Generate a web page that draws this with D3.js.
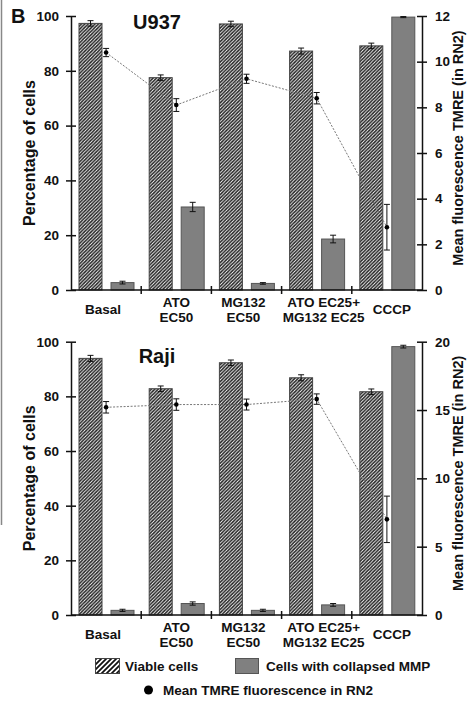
<!DOCTYPE html>
<html>
<head>
<meta charset="utf-8">
<script src="https://cdn.jsdelivr.net/npm/d3@7"></script>
<style>
  body { margin: 0; background: #fff; }
  text { font-family: "Liberation Sans", Arial, sans-serif; font-weight: bold; fill: #111; }
</style>
</head>
<body>
<div id="graph"></div>
<script>
// categories and x labels (one entry per line)
var categories = ["Basal", "ATO EC50", "MG132 EC50", "ATO EC25+ MG132 EC25", "CCCP"];
var category_lines = [["Basal"], ["ATO", "EC50"], ["MG132", "EC50"], ["ATO EC25+", "MG132 EC25"], ["CCCP"]];

// U937 panel
var u937_viable = [97.3, 77.5, 97.1, 87.2, 89.1];
var u937_viable_err = [1.0, 1.0, 1.0, 1.1, 1.0];
var u937_collapsed = [2.7, 30.3, 2.4, 18.6, 99.6];
var u937_collapsed_err = [0.5, 1.7, 0.3, 1.4, 0.2];
var u937_tmre = [10.4, 8.1, 9.25, 8.4, 2.75];
var u937_tmre_err = [0.18, 0.28, 0.2, 0.25, 1.0];

// Raji panel
var raji_viable = [93.9, 82.8, 92.3, 86.8, 81.7];
var raji_viable_err = [1.1, 1.0, 1.0, 1.1, 1.0];
var raji_collapsed = [1.7, 4.2, 1.7, 3.7, 98.2];
var raji_collapsed_err = [0.4, 0.6, 0.4, 0.5, 0.5];
var raji_tmre = [15.2, 15.4, 15.4, 15.8, 7.0];
var raji_tmre_err = [0.42, 0.42, 0.4, 0.38, 1.7];

// tick values
var left_ticks = [0, 20, 40, 60, 80, 100];
var u937_right_ticks = [0, 2, 4, 6, 8, 10, 12];
var raji_right_ticks = [0, 5, 10, 15, 20];

var WIDTH = 468, HEIGHT = 703;
var LEFT = 71, RIGHT = 422;
var BAR_W = 23;
var label_shift = [-3, 0, -3, 7, 5];

var svg = d3.select("#graph").append("svg")
  .attr("width", WIDTH).attr("height", HEIGHT);

svg.append("rect").attr("width", WIDTH).attr("height", HEIGHT).attr("fill", "#fff");

// Hatch patterns
var defs = svg.append("defs");
defs.append("pattern")
  .attr("id", "hatch").attr("patternUnits", "userSpaceOnUse")
  .attr("width", 3.4).attr("height", 3.4)
  .append("path")
  .attr("d", "M-1,1 l2,-2 M0,3.4 l3.4,-3.4 M2.4,4.4 l2,-2")
  .attr("stroke", "#1e1e1e").attr("stroke-width", 1.5);
defs.append("pattern")
  .attr("id", "hatch_big").attr("patternUnits", "userSpaceOnUse")
  .attr("width", 5).attr("height", 5)
  .append("path")
  .attr("d", "M-1,1 l2,-2 M0,5 l5,-5 M4,6 l2,-2")
  .attr("stroke", "#111").attr("stroke-width", 1.8);

// left frame line
svg.append("line").attr("x1", 1.5).attr("x2", 1.5).attr("y1", 0).attr("y2", 525)
  .attr("stroke", "#888").attr("stroke-width", 1.5);

svg.append("text").attr("x", 11).attr("y", 23).style("font-size", "20px").text("B");

var xscale = d3.scaleBand().domain(categories).range([LEFT, RIGHT]);

function draw_panel(p) {
  var yscale = d3.scaleLinear().domain([0, 100]).range([p.bottom, p.top]);
  var rscale = d3.scaleLinear().domain([0, p.right_max]).range([p.bottom, p.top]);
  var g = svg.append("g");

  // Bars: viable (hatched)
  g.selectAll(".viable").data(p.viable).enter().append("rect")
    .attr("x", (d, i) => xscale(categories[i]) + 8)
    .attr("y", d => yscale(d))
    .attr("width", BAR_W)
    .attr("height", d => p.bottom - yscale(d))
    .attr("fill", "url(#hatch)")
    .attr("stroke", "#444").attr("stroke-width", 1);

  // Bars: collapsed (gray)
  g.selectAll(".collapsed").data(p.collapsed).enter().append("rect")
    .attr("x", (d, i) => xscale(categories[i]) + 40)
    .attr("y", d => yscale(d))
    .attr("width", BAR_W)
    .attr("height", d => p.bottom - yscale(d))
    .attr("fill", "#808080")
    .attr("stroke", "#555").attr("stroke-width", 1);

  function err_bar(cx, lo, hi) {
    g.append("line").attr("x1", cx).attr("x2", cx).attr("y1", lo).attr("y2", hi)
      .attr("stroke", "#111").attr("stroke-width", 1);
    [lo, hi].forEach(y => g.append("line").attr("x1", cx - 3).attr("x2", cx + 3)
      .attr("y1", y).attr("y2", y).attr("stroke", "#111").attr("stroke-width", 1));
  }

  p.viable.forEach((v, i) => err_bar(xscale(categories[i]) + 8 + BAR_W / 2,
    yscale(v - p.viable_err[i]), yscale(v + p.viable_err[i])));
  p.collapsed.forEach((v, i) => err_bar(xscale(categories[i]) + 40 + BAR_W / 2,
    yscale(v - p.collapsed_err[i]), yscale(v + p.collapsed_err[i])));

  // TMRE dotted line + points
  var cx = (d, i) => xscale(categories[i]) + xscale.bandwidth() / 2;
  var line = d3.line().x(cx).y(d => rscale(d));
  g.append("path").datum(p.tmre).attr("d", line)
    .attr("fill", "none").attr("stroke", "#777").attr("stroke-width", 1)
    .attr("stroke-dasharray", "2,1.5");
  p.tmre.forEach((v, i) => err_bar(cx(v, i), rscale(v - p.tmre_err[i]), rscale(v + p.tmre_err[i])));
  g.selectAll(".pt").data(p.tmre).enter().append("circle")
    .attr("cx", cx).attr("cy", d => rscale(d)).attr("r", 2.3).attr("fill", "#000");

  // Axes
  var left_axis = d3.axisLeft(yscale).tickValues(left_ticks).tickSize(5).tickSizeOuter(0).tickPadding(7);
  var la = g.append("g").attr("transform", `translate(${LEFT},0)`).call(left_axis);
  la.selectAll(".tick line").attr("x1", -5).attr("x2", 5);

  var right_axis = d3.axisRight(rscale).tickValues(p.right_ticks).tickSize(5).tickSizeOuter(0).tickPadding(8);
  var ra = g.append("g").attr("transform", `translate(${RIGHT},0)`).call(right_axis);
  ra.selectAll(".tick line").attr("x1", -5).attr("x2", 5);

  [la, ra].forEach(a => {
    a.select(".domain").attr("stroke", "#111").attr("stroke-width", 1.5);
    a.selectAll(".tick line").attr("stroke", "#111").attr("stroke-width", 1.5);
    a.selectAll("text").style("font-size", "13.5px").style("font-family", "Liberation Sans, Arial")
      .style("font-weight", "bold").attr("fill", "#111");
  });

  // x axis line and group separators
  g.append("line").attr("x1", LEFT).attr("x2", RIGHT).attr("y1", p.bottom).attr("y2", p.bottom)
    .attr("stroke", "#111").attr("stroke-width", 1.5);
  categories.slice(1).forEach(c => {
    g.append("line").attr("x1", xscale(c)).attr("x2", xscale(c))
      .attr("y1", p.bottom - 4).attr("y2", p.bottom + 4)
      .attr("stroke", "#111").attr("stroke-width", 1.5);
  });

  // x labels
  category_lines.forEach((lines, i) => {
    var x = xscale(categories[i]) + xscale.bandwidth() / 2 + label_shift[i];
    var t = g.append("text").attr("text-anchor", "middle").style("font-size", "13.5px");
    if (lines.length === 1) {
      t.append("tspan").attr("x", x).attr("y", p.bottom + 23.5).text(lines[0]);
    } else {
      lines.forEach((s, j) => t.append("tspan").attr("x", x).attr("y", p.bottom + 17 + j * 15).text(s));
    }
  });

  // titles
  g.append("text").attr("x", 157).attr("y", p.top + p.title_dy).attr("text-anchor", "middle")
    .style("font-size", "20px").text(p.title);

  g.append("text").attr("transform", `translate(35,${(p.top + p.bottom) / 2}) rotate(-90)`)
    .attr("text-anchor", "middle").style("font-size", "16px").text("Percentage of cells");
  g.append("text").attr("transform", `translate(463,${(p.top + p.bottom) / 2 - 5}) rotate(-90)`)
    .attr("text-anchor", "middle").style("font-size", "14.5px").text("Mean fluorescence TMRE (in RN2)");
}

draw_panel({
  top: 16, bottom: 290, right_max: 12, right_ticks: u937_right_ticks,
  viable: u937_viable, viable_err: u937_viable_err,
  collapsed: u937_collapsed, collapsed_err: u937_collapsed_err,
  tmre: u937_tmre, tmre_err: u937_tmre_err,
  title: "U937", title_dy: 13
});

draw_panel({
  top: 341.7, bottom: 615, right_max: 20, right_ticks: raji_right_ticks,
  viable: raji_viable, viable_err: raji_viable_err,
  collapsed: raji_collapsed, collapsed_err: raji_collapsed_err,
  tmre: raji_tmre, tmre_err: raji_tmre_err,
  title: "Raji", title_dy: 21
});

// Legend
var legend = svg.append("g");
legend.append("rect").attr("x", 95.5).attr("y", 658.5).attr("width", 24).attr("height", 15)
  .attr("fill", "url(#hatch_big)").attr("stroke", "#444");
legend.append("text").attr("x", 125).attr("y", 671).style("font-size", "13.5px").text("Viable cells");
legend.append("rect").attr("x", 235.5).attr("y", 658.5).attr("width", 23).attr("height", 15)
  .attr("fill", "#808080").attr("stroke", "#555");
legend.append("text").attr("x", 266).attr("y", 671).style("font-size", "13.5px").text("Cells with collapsed MMP");
legend.append("circle").attr("cx", 148.5).attr("cy", 690).attr("r", 4.5).attr("fill", "#000");
legend.append("text").attr("x", 163).attr("y", 695).style("font-size", "13.5px").text("Mean TMRE fluorescence in RN2");
</script>
</body>
</html>
